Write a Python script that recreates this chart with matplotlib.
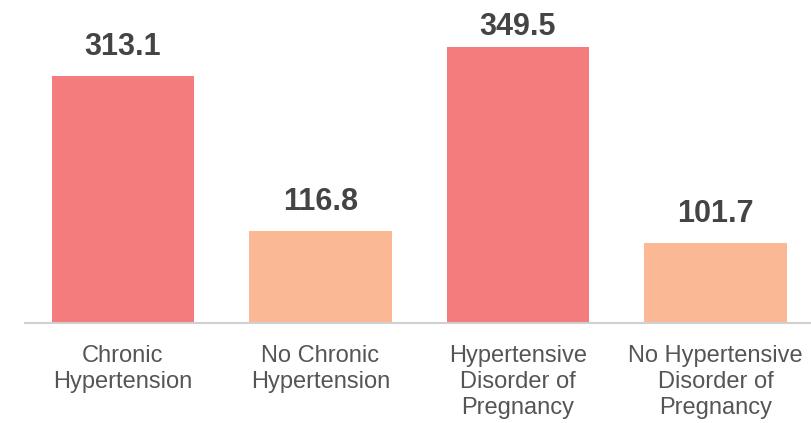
import matplotlib.pyplot as plt

categories = ['Chronic\nHypertension', 'No Chronic\nHypertension',
              'Hypertensive\nDisorder of\nPregnancy', 'No Hypertensive\nDisorder of\nPregnancy']
values = [313.1, 116.8, 349.5, 101.7]
bar_colors = ['#F47C7C', '#FBB895', '#F47C7C', '#FBB895']

plt.rcParams['font.family'] = ['Liberation Sans', 'DejaVu Sans']

fig = plt.figure(figsize=(8.11, 4.23), dpi=100)
ax = fig.add_axes([25 / 811, 0.236, 786 / 811, 0.764])

x = range(len(values))
bars = ax.bar(x, values, width=0.72, color=bar_colors)

# the tallest label is squeezed against the top of the image
for b, v in zip(bars, values):
    off = 3.5 if v == max(values) else 10
    ax.annotate(f'{v:.1f}', (b.get_x() + b.get_width() / 2, v),
                xytext=(0, off), textcoords='offset points',
                ha='center', va='bottom', fontsize=22, fontweight='bold', color='#444444')

ax.set_xlim(-0.496, 3.484)
ax.set_ylim(0, 409)
ax.set_xticks(list(x))
ax.set_xticklabels(categories, fontsize=17, color='#555555', linespacing=1.22)
ax.tick_params(axis='x', length=0, pad=16)
ax.set_yticks([])
for s in ['top', 'right', 'left']:
    ax.spines[s].set_visible(False)
ax.spines['bottom'].set_color('#D0D0D0')
ax.spines['bottom'].set_linewidth(1.5)

fig.savefig('out.png', dpi=100)
